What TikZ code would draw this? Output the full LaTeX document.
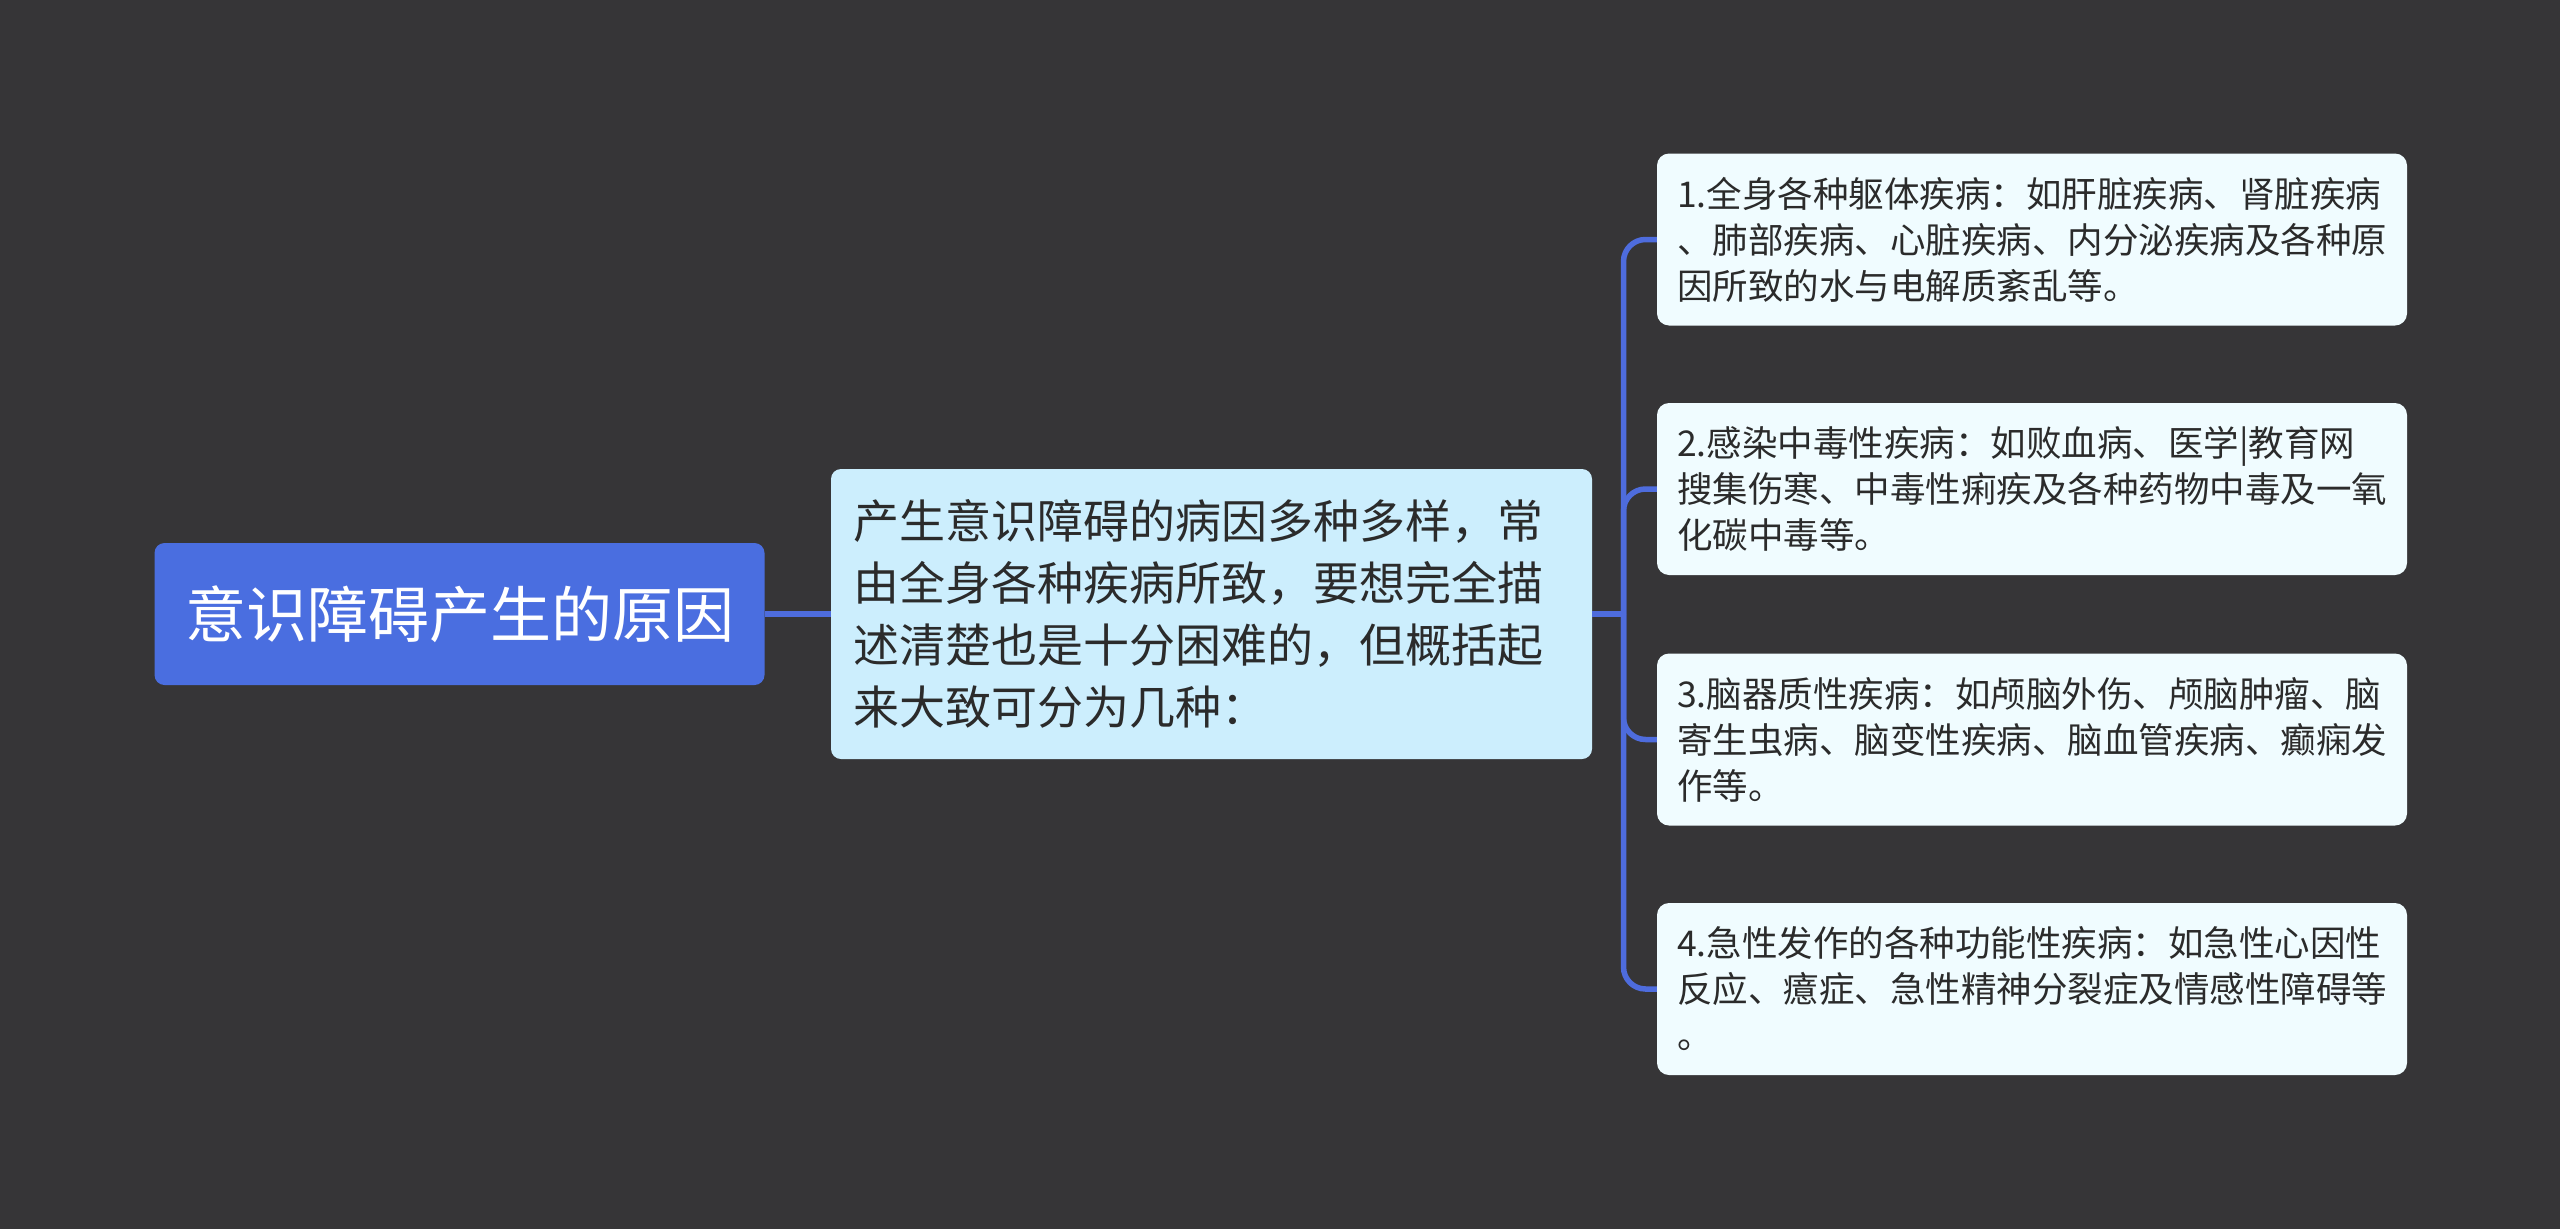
\documentclass[tikz,border=0pt]{standalone}
\usepackage{fontspec}
\setmainfont{Noto Sans CJK SC}
\definecolor{bgc}{HTML}{363537}
\definecolor{rootc}{HTML}{4A6EE0}
\definecolor{midc}{HTML}{CCEEFD}
\definecolor{leafc}{HTML}{F0FCFF}
\definecolor{linec}{HTML}{4E6CDD}
\definecolor{txtc}{HTML}{2B2B2B}
\tikzset{
  rootbox/.style={fill=rootc, rounded corners=10pt, text=white, minimum width=610pt, minimum height=142pt, inner sep=0pt, font=\fontsize{61}{70}\selectfont},
  midbox/.style={fill=midc, rounded corners=10pt, text=txtc, minimum width=761pt, minimum height=290pt, inner xsep=22pt, text width=717pt, align=left, font=\fontsize{46}{62}\selectfont},
  leafbox/.style={fill=leafc, rounded corners=12pt, text=txtc, minimum width=750pt, minimum height=172pt, inner xsep=20pt, text width=710pt, align=left, font=\fontsize{35.5}{46}\selectfont},
  link/.style={draw=linec, line width=5.5pt},
}
\begin{document}
\begin{tikzpicture}[x=1pt,y=-1pt]
\fill[bgc] (0,0) rectangle (2560,1229);
\useasboundingbox (0,0) rectangle (2560,1229);
\node[rootbox] (root) at (459.5,614) {意识障碍产生的原因};
\node[midbox] (mid) at (1211.5,614) {产生意识障碍的病因多种多样，常\\由全身各种疾病所致，要想完全描\\述清楚也是十分困难的，但概括起\\来大致可分为几种：};
\node[leafbox] (l1) at (2032,239.5) {1.全身各种躯体疾病：如肝脏疾病、肾脏疾病\\、肺部疾病、心脏疾病、内分泌疾病及各种原\\因所致的水与电解质紊乱等。};
\node[leafbox] (l2) at (2032,489) {2.感染中毒性疾病：如败血病、医学|教育网\\搜集伤寒、中毒性痢疾及各种药物中毒及一氧\\化碳中毒等。};
\node[leafbox] (l3) at (2032,739.5) {3.脑器质性疾病：如颅脑外伤、颅脑肿瘤、脑\\寄生虫病、脑变性疾病、脑血管疾病、癫痫发\\作等。};
\node[leafbox] (l4) at (2032,989) {4.急性发作的各种功能性疾病：如急性心因性\\反应、癔症、急性精神分裂症及情感性障碍等\\。};
\coordinate (j) at (1623.5,614);
\draw[link] (root.east) -- (mid.west);
\draw[link] (mid.east) -- (j);
\foreach \n in {l1,l2,l3,l4}{
  \draw[link, rounded corners=22pt] (j) |- (\n.west);
}
\end{tikzpicture}
\end{document}
